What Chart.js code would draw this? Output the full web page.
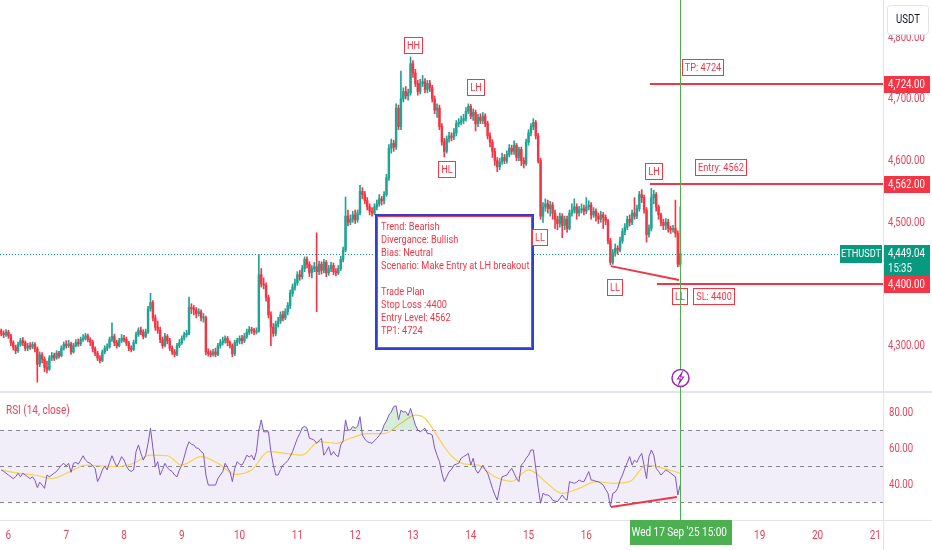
<!DOCTYPE html>
<html>
<head>
<meta charset="utf-8">
<script src="https://cdn.jsdelivr.net/npm/chart.js@4.4.1/dist/chart.umd.min.js"></script>
<style>
html, body { margin: 0; padding: 0; background: #fff; }
#wrap { position: relative; width: 932px; height: 550px; overflow: hidden; }
#price { position: absolute; left: 0; top: 0; }
#rsi { position: absolute; left: 0; top: 391px; }
</style>
</head>
<body>
<div id="wrap">
  <canvas id="price" width="932" height="391"></canvas>
  <canvas id="rsi" width="932" height="159"></canvas>
</div>
<script>
// ETHUSDT 1h, 5 Sep 21:00 -> 17 Sep 15:00 (one value per hour)
var opens = [
  4324, 4320, 4318,
  4322, 4316, 4305, 4298, 4292, 4302, 4308, 4305, 4296, 4300, 4298, 4302, 4295, 4270, 4285, 4278, 4265, 4262, 4280, 4284, 4280, 4288, 4284, 4296,
  4302, 4300, 4303, 4290, 4300, 4305, 4303, 4310, 4312, 4316, 4310, 4306, 4295, 4288, 4280, 4276, 4290, 4296, 4298, 4310, 4315, 4305, 4300, 4308,
  4312, 4310, 4304, 4296, 4294, 4305, 4318, 4325, 4322, 4315, 4322, 4360, 4370, 4345, 4330, 4325, 4310, 4300, 4315, 4308, 4296, 4290, 4286, 4300,
  4305, 4312, 4318, 4320, 4362, 4360, 4358, 4352, 4355, 4345, 4345, 4290, 4287, 4286, 4290, 4286, 4300, 4305, 4308, 4312, 4305, 4300, 4287, 4305,
  4308, 4312, 4308, 4315, 4322, 4326, 4325, 4322, 4324, 4415, 4400, 4398, 4378, 4350, 4330, 4320, 4335, 4340, 4350, 4345, 4355, 4365, 4385, 4395,
  4402, 4415, 4412, 4425, 4440, 4432, 4418, 4425, 4428, 4420, 4432, 4422, 4435, 4418, 4425, 4430, 4420, 4418, 4425, 4440, 4455, 4510, 4500, 4505,
  4512, 4504, 4515, 4550, 4545, 4535, 4525, 4518, 4515, 4525, 4530, 4538, 4535, 4545, 4572, 4620, 4628, 4622, 4685, 4655, 4700, 4712, 4705, 4710,
  4757, 4742, 4725, 4712, 4725, 4728, 4715, 4725, 4718, 4700, 4682, 4685, 4655, 4630, 4615, 4635, 4640, 4638, 4645, 4660, 4662, 4665, 4668, 4680,
  4688, 4672, 4678, 4660, 4670, 4665, 4672, 4660, 4640, 4630, 4615, 4600, 4590, 4598, 4605, 4600, 4610, 4620, 4615, 4625, 4605, 4618, 4600, 4595,
  4630, 4645, 4655, 4662, 4640, 4600, 4510, 4525, 4530, 4522, 4528, 4515, 4505, 4498, 4510, 4495, 4505, 4490, 4515, 4520, 4525, 4515, 4520, 4522,
  4518, 4525, 4528, 4512, 4518, 4510, 4505, 4512, 4508, 4502, 4470, 4435, 4450, 4458, 4455, 4470, 4485, 4492, 4505, 4500, 4515, 4510, 4522, 4545,
  4540, 4520, 4480, 4490, 4540, 4545, 4525, 4512, 4500, 4495, 4500, 4490, 4488, 4490, 4482, 4432
];
var highs = [
  4327, 4324, 4326,
  4325, 4319, 4308, 4301, 4306, 4312, 4313, 4308, 4304, 4305, 4306, 4305, 4298, 4290, 4289, 4282, 4275, 4284, 4289, 4288, 4292, 4291, 4300, 4306,
  4308, 4309, 4306, 4304, 4310, 4311, 4314, 4318, 4320, 4319, 4313, 4309, 4298, 4291, 4284, 4293, 4300, 4303, 4314, 4337, 4319, 4309, 4312, 4318,
  4317, 4314, 4307, 4300, 4309, 4322, 4329, 4330, 4326, 4327, 4364, 4385, 4373, 4350, 4340, 4330, 4314, 4320, 4318, 4312, 4300, 4294, 4304, 4310,
  4316, 4322, 4325, 4379, 4368, 4365, 4362, 4360, 4358, 4352, 4348, 4295, 4292, 4294, 4296, 4304, 4310, 4314, 4316, 4315, 4308, 4303, 4309, 4312,
  4316, 4317, 4320, 4327, 4331, 4330, 4328, 4329, 4448, 4425, 4410, 4402, 4382, 4355, 4336, 4340, 4346, 4355, 4356, 4360, 4370, 4390, 4400, 4408,
  4420, 4422, 4430, 4444, 4444, 4436, 4430, 4435, 4483, 4437, 4436, 4440, 4438, 4430, 4435, 4434, 4425, 4430, 4445, 4460, 4541, 4520, 4512, 4518,
  4520, 4520, 4560, 4556, 4550, 4540, 4530, 4524, 4530, 4536, 4545, 4542, 4550, 4578, 4626, 4635, 4633, 4692, 4690, 4745, 4718, 4720, 4716, 4768,
  4762, 4748, 4730, 4732, 4738, 4733, 4730, 4730, 4722, 4705, 4692, 4690, 4660, 4636, 4640, 4646, 4645, 4652, 4665, 4668, 4672, 4675, 4686, 4692,
  4691, 4684, 4682, 4675, 4676, 4678, 4676, 4664, 4645, 4634, 4620, 4605, 4604, 4612, 4610, 4616, 4626, 4625, 4632, 4628, 4622, 4622, 4605, 4635,
  4650, 4660, 4668, 4665, 4644, 4604, 4532, 4538, 4536, 4534, 4532, 4520, 4510, 4515, 4514, 4510, 4510, 4520, 4530, 4538, 4530, 4526, 4530, 4528,
  4540, 4535, 4532, 4524, 4522, 4515, 4518, 4516, 4512, 4505, 4474, 4456, 4465, 4462, 4476, 4490, 4498, 4510, 4512, 4520, 4540, 4528, 4550, 4553,
  4544, 4524, 4496, 4555, 4552, 4548, 4528, 4515, 4505, 4506, 4505, 4494, 4495, 4536, 4486, 4525
];
var lows = [
  4316, 4313, 4315,
  4312, 4300, 4293, 4287, 4289, 4299, 4300, 4292, 4292, 4294, 4295, 4290, 4241, 4266, 4272, 4258, 4256, 4260, 4276, 4276, 4278, 4280, 4282, 4293,
  4296, 4297, 4286, 4288, 4298, 4299, 4300, 4307, 4309, 4306, 4300, 4290, 4284, 4276, 4272, 4274, 4287, 4292, 4296, 4307, 4300, 4296, 4298, 4305,
  4306, 4300, 4292, 4290, 4292, 4303, 4315, 4318, 4311, 4313, 4320, 4356, 4340, 4325, 4320, 4305, 4296, 4298, 4303, 4292, 4286, 4282, 4284, 4297,
  4302, 4309, 4314, 4318, 4352, 4350, 4345, 4348, 4340, 4338, 4285, 4283, 4282, 4283, 4282, 4284, 4296, 4301, 4304, 4300, 4296, 4282, 4284, 4300,
  4303, 4303, 4305, 4312, 4318, 4320, 4318, 4319, 4322, 4395, 4392, 4372, 4345, 4300, 4315, 4316, 4330, 4336, 4340, 4342, 4350, 4360, 4380, 4390,
  4398, 4406, 4408, 4420, 4426, 4412, 4410, 4420, 4355, 4415, 4416, 4418, 4412, 4414, 4420, 4415, 4413, 4415, 4422, 4436, 4452, 4494, 4496, 4500,
  4498, 4500, 4512, 4538, 4530, 4520, 4512, 4510, 4512, 4520, 4526, 4528, 4530, 4542, 4568, 4612, 4615, 4618, 4650, 4650, 4695, 4700, 4698, 4706,
  4735, 4720, 4706, 4708, 4720, 4710, 4710, 4712, 4695, 4676, 4670, 4650, 4625, 4606, 4612, 4630, 4632, 4634, 4640, 4655, 4658, 4660, 4664, 4676,
  4668, 4665, 4648, 4655, 4660, 4660, 4655, 4635, 4622, 4605, 4592, 4582, 4585, 4594, 4595, 4596, 4606, 4610, 4610, 4600, 4600, 4592, 4588, 4592,
  4625, 4640, 4650, 4635, 4596, 4505, 4500, 4518, 4515, 4510, 4505, 4490, 4488, 4492, 4475, 4488, 4484, 4488, 4510, 4515, 4505, 4510, 4515, 4512,
  4514, 4520, 4505, 4508, 4502, 4498, 4500, 4490, 4496, 4465, 4431, 4432, 4445, 4448, 4452, 4466, 4480, 4488, 4494, 4496, 4505, 4506, 4518, 4532,
  4515, 4468, 4476, 4486, 4530, 4518, 4505, 4494, 4488, 4488, 4484, 4482, 4484, 4476, 4428, 4428
];
var closes = [
  4320, 4318, 4322,
  4316, 4305, 4298, 4292, 4302, 4308, 4305, 4296, 4300, 4298, 4302, 4295, 4270, 4285, 4278, 4265, 4262, 4280, 4284, 4280, 4288, 4284, 4296, 4302,
  4300, 4303, 4290, 4300, 4305, 4303, 4310, 4312, 4316, 4310, 4306, 4295, 4288, 4280, 4276, 4290, 4296, 4298, 4310, 4315, 4305, 4300, 4308, 4312,
  4310, 4304, 4296, 4294, 4305, 4318, 4325, 4322, 4315, 4322, 4360, 4370, 4345, 4330, 4325, 4310, 4300, 4315, 4308, 4296, 4290, 4286, 4300, 4305,
  4312, 4318, 4320, 4362, 4360, 4358, 4352, 4355, 4345, 4345, 4290, 4287, 4286, 4290, 4286, 4300, 4305, 4308, 4312, 4305, 4300, 4287, 4305, 4308,
  4312, 4308, 4315, 4322, 4326, 4325, 4322, 4324, 4415, 4400, 4398, 4378, 4350, 4330, 4320, 4335, 4340, 4350, 4345, 4355, 4365, 4385, 4395, 4402,
  4415, 4412, 4425, 4440, 4432, 4418, 4425, 4428, 4420, 4432, 4422, 4435, 4418, 4425, 4430, 4420, 4418, 4425, 4440, 4455, 4510, 4500, 4505, 4512,
  4504, 4515, 4550, 4545, 4535, 4525, 4518, 4515, 4525, 4530, 4538, 4535, 4545, 4572, 4620, 4628, 4622, 4685, 4655, 4700, 4712, 4705, 4710, 4757,
  4742, 4725, 4712, 4725, 4728, 4715, 4725, 4718, 4700, 4682, 4685, 4655, 4630, 4615, 4635, 4640, 4638, 4645, 4660, 4662, 4665, 4668, 4680, 4688,
  4672, 4678, 4660, 4670, 4665, 4672, 4660, 4640, 4630, 4615, 4600, 4590, 4598, 4605, 4600, 4610, 4620, 4615, 4625, 4605, 4618, 4600, 4595, 4630,
  4645, 4655, 4662, 4640, 4600, 4510, 4525, 4530, 4522, 4528, 4515, 4505, 4498, 4510, 4495, 4505, 4490, 4515, 4520, 4525, 4515, 4520, 4522, 4518,
  4525, 4528, 4512, 4518, 4510, 4505, 4512, 4508, 4502, 4470, 4435, 4450, 4458, 4455, 4470, 4485, 4492, 4505, 4500, 4515, 4510, 4522, 4545, 4540,
  4520, 4480, 4490, 4540, 4545, 4525, 4512, 4500, 4495, 4500, 4490, 4488, 4490, 4482, 4432, 4449.04
];
var rsiValues = [
  47.8, 47, 46,
  45, 44, 43, 44, 46, 44, 46, 45, 44, 43, 44, 42, 38, 41, 39.4, 37.6, 45, 44, 45, 46, 47, 48.7, 50.5, 51.5,
  50, 51.5, 46.5, 51.5, 52, 51, 53.3, 55.7, 53.3, 52, 51.5, 50, 48.7, 41.3, 44, 47.8, 50, 47.8, 52, 55.7, 52.4, 49.6, 52, 55.2,
  53.3, 50, 47.8, 47, 47.8, 58, 61.7, 57, 53.3, 56, 62.6, 71, 60, 49.6, 52.4, 45, 48, 51.5, 49, 47.8, 46.9, 45, 44, 47.8,
  50.5, 55, 60, 63.5, 62, 61.7, 60, 59.8, 58, 57, 45, 39.4, 39.4, 39.4, 39.4, 43, 45, 46.9, 51.5, 49, 46.9, 41.3, 48.7, 52.4,
  51, 50.5, 53, 56, 55, 56, 53.3, 58, 70, 75.6, 69, 69, 69, 58, 50.5, 45, 45, 48, 50.5, 51.5, 53, 55.2, 58, 61.7,
  65.4, 68, 71.3, 72, 71, 65.4, 65, 64.4, 62.6, 64, 65.4, 56, 58, 60.7, 56, 58, 56, 55.2, 61.7, 64, 75.6, 70, 70, 72,
  71, 72, 77.4, 67.2, 65, 63.5, 63, 62.6, 64, 65.4, 67, 69, 72.8, 75, 78.3, 80, 83, 83.5, 75.6, 81, 80, 80.2, 78, 82,
  77.4, 72.8, 70, 69, 70, 71, 68, 68, 67.2, 60, 56, 52.4, 46, 41.3, 44, 46.9, 48, 50.5, 51, 51.5, 54.3, 55.2, 56, 57,
  50.5, 54.3, 48, 46, 48, 50.5, 48, 46, 42, 37.6, 34, 31, 38, 44, 44.5, 45, 47, 48.7, 46, 43, 41.3, 50.5, 52, 54.3,
  56, 58.9, 58.9, 48.7, 38, 29.3, 34.8, 34, 33.9, 33, 31, 30.5, 30.2, 32, 33.9, 32, 31, 41.3, 40.8, 40.4, 41, 42.2, 41.5, 41.3,
  44, 46.9, 42.2, 42, 41.5, 41.3, 40.5, 39.4, 37, 34.8, 27.4, 34.8, 35.5, 37.6, 42, 45, 48.7, 52, 55.2, 50.5, 53.3, 52, 55, 57,
  50, 43, 55.2, 58.9, 56, 48.7, 47, 45, 46.5, 47.8, 47, 46, 45, 44, 33.9, 39.4
];
// RSI-based MA (yellow), read at a few points
var maHours = [0, 7, 14, 21, 28, 35, 42, 48, 55, 62, 69, 75, 83, 90, 97, 104, 111, 118, 125, 132, 139, 145, 152, 159, 166, 172, 176, 180, 184, 188, 193, 198, 205, 212, 219, 222, 226, 233, 240, 247, 254, 261, 268, 275, 282];
var maValues = [47.8, 46, 45, 43, 46.5, 50.5, 50, 49.6, 51.5, 56, 55.7, 50.5, 55.2, 51.5, 45.4, 47.8, 58, 57, 56, 63.5, 62.6, 65.4, 68, 68, 73.7, 78.3, 76.5, 69, 60.7, 54.3, 51, 50.5, 44, 41.5, 47.8, 46, 41.3, 34.8, 37.6, 41.3, 40.4, 41.3, 50.5, 48.7, 46];

var dayTicks = [3, 27, 51, 75, 99, 123, 147, 171, 195, 219, 243, 267, 291, 315, 339, 363];
var dayLabels = ['6', '7', '8', '9', '10', '11', '12', '13', '14', '15', '16', '17', '18', '19', '20', '21'];
var priceTicks = [4300, 4400, 4500, 4600, 4700, 4800];
var rsiTicks = [40, 60, 80];
var rsiLevels = [70, 50, 30];

var lastPrice = 4449.04;
var lastHour = 282;

// drawings on the chart
var pivotTexts = ['HH', 'LH', 'HL', 'LL', 'LH', 'LL', 'LL'];
var pivotHours = [171.2, 197.2, 185.1, 223.8, 271.3, 254.9, 282.1];
var pivotPrices = [4787, 4718, 4586, 4475, 4582, 4395, 4380];
var levelNames = ['TP: 4724', 'Entry: 4562', 'SL: 4400'];
var levelPrices = [4724, 4562, 4400];
var levelFrom = [269.4, 269.4, 272.3];
var levelTagHours = [291.5, 298.9, 296];
var levelTagPrices = [4751, 4589, 4379];
var planHours = [155.6, 220.8];
var planPrices = [4512.5, 4294.7];
var planLines = ['Trend: Bearish', 'Divergance: Bullish', 'Bias: Neutral', 'Scenario: Make Entry at LH breakout', '', 'Trade Plan', 'Stop Loss :4400', 'Entry Level: 4562', 'TP1: 4724'];
var priceDivHours = [253.2, 281.5];
var priceDivValues = [4429, 4406.5];
var rsiDivHours = [253.2, 280.6];
var rsiDivValues = [27.2, 32.8];

var X_MIN = -0.5, X_MAX = 366.2;
var UP = '#22a393', DOWN = '#f23645', TEAL = '#089981', RED = '#f23645';
var AXIS_TXT = '#e6455a';
var FONT = 'Roboto, sans-serif';
var SX = 0.8;   // the screenshot's text is narrow, squeeze it a bit

var hours = closes.map(function (c, i) { return i; });
var candleColors = hours.map(function (i) { return closes[i] >= opens[i] ? UP : DOWN; });

function fmt(v) {
    return v.toLocaleString('en-US', { minimumFractionDigits: 2, maximumFractionDigits: 2 });
}

function say(ctx, s, x, y, size, color, align, base) {
    ctx.save();
    ctx.font = size + 'px ' + FONT;
    ctx.fillStyle = color;
    ctx.textAlign = align || 'left';
    ctx.textBaseline = base || 'middle';
    ctx.translate(x, y);
    ctx.scale(SX, 1);
    ctx.fillText(s, 0, 0);
    ctx.restore();
}

function textW(ctx, s, size) {
    ctx.save();
    ctx.font = size + 'px ' + FONT;
    var w = ctx.measureText(s).width * SX;
    ctx.restore();
    return w;
}

function tag(ctx, text, cx, cy) {
    var w = Math.round(textW(ctx, text, 11.5) + 6);
    var h = 17;
    var x0 = Math.round(cx - w / 2), y0 = Math.round(cy - h / 2);
    ctx.fillStyle = '#fff';
    ctx.fillRect(x0, y0, w, h);
    ctx.strokeStyle = RED;
    ctx.lineWidth = 1;
    ctx.strokeRect(x0 + 0.5, y0 + 0.5, w - 1, h - 1);
    say(ctx, text, x0 + w / 2, y0 + h / 2 + 0.5, 11.5, RED, 'center');
}

function axisTag(ctx, text, left, cy, bg) {
    ctx.fillStyle = bg;
    ctx.fillRect(left + 1, Math.round(cy - 8.5), 46, 17);
    say(ctx, text, left + 5, cy + 0.5, 12, '#fff');
}

var pricePlugin = {
    id: 'priceDecor',
    beforeDatasetsDraw: function (chart) {
        var ctx = chart.ctx, a = chart.chartArea, y = chart.scales.y;
        var py = Math.round(y.getPixelForValue(lastPrice)) + 0.5;
        ctx.save();
        ctx.strokeStyle = TEAL;
        ctx.lineWidth = 1;
        ctx.setLineDash([1, 2]);
        ctx.beginPath();
        ctx.moveTo(a.left, py);
        ctx.lineTo(a.right - 43, py);
        ctx.stroke();
        ctx.restore();
    },
    afterDatasetsDraw: function (chart) {
        var ctx = chart.ctx, a = chart.chartArea, x = chart.scales.x, y = chart.scales.y;
        ctx.save();
        // trade plan note
        var bx1 = Math.round(x.getPixelForValue(planHours[0])), bx2 = Math.round(x.getPixelForValue(planHours[1]));
        var by1 = Math.round(y.getPixelForValue(planPrices[0])), by2 = Math.round(y.getPixelForValue(planPrices[1]));
        ctx.fillStyle = '#fff';
        ctx.fillRect(bx1, by1, bx2 - bx1, by2 - by1);
        ctx.strokeStyle = '#2f3fd6';
        ctx.lineWidth = 2;
        ctx.strokeRect(bx1, by1, bx2 - bx1, by2 - by1);
        ctx.strokeStyle = RED;
        ctx.lineWidth = 1;
        ctx.strokeRect(bx1 + 1.5, by1 + 1.5, bx2 - bx1 - 3, by2 - by1 - 3);
        planLines.forEach(function (t, k) { say(ctx, t, bx1 + 5, by1 + 6 + k * 13, 11.5, RED, 'left', 'top'); });

        // swing labels and level captions
        pivotTexts.forEach(function (t, k) {
            tag(ctx, t, x.getPixelForValue(pivotHours[k]), y.getPixelForValue(pivotPrices[k]));
        });
        levelNames.forEach(function (t, k) {
            tag(ctx, t, x.getPixelForValue(levelTagHours[k]), y.getPixelForValue(levelTagPrices[k]));
        });

        // vertical marker
        var cx = Math.round(x.getPixelForValue(lastHour)) + 0.5;
        ctx.strokeStyle = '#4caf50';
        ctx.lineWidth = 1;
        ctx.beginPath();
        ctx.moveTo(cx, a.top);
        ctx.lineTo(cx, a.bottom);
        ctx.stroke();
        ctx.restore();
    },
    afterDraw: function (chart) {
        var ctx = chart.ctx, a = chart.chartArea, x = chart.scales.x, y = chart.scales.y;
        ctx.save();
        // price axis labels
        y.ticks.forEach(function (t) { say(ctx, fmt(t.value), a.right + 5, y.getPixelForValue(t.value) + 0.5, 12, AXIS_TXT); });

        var py = y.getPixelForValue(lastPrice);
        ctx.fillStyle = TEAL;
        ctx.fillRect(a.right - 43, Math.round(py - 9), 42, 18);
        say(ctx, 'ETHUSDT', a.right - 22, py + 0.5, 11.5, '#fff', 'center');
        ctx.fillStyle = TEAL;
        ctx.fillRect(a.right + 1, Math.round(py - 9), 46, 32);
        say(ctx, fmt(lastPrice), a.right + 5, py + 0.5, 12, '#fff');
        say(ctx, '15:35', a.right + 5, py + 15, 12, '#fff');
        levelPrices.forEach(function (p) { axisTag(ctx, fmt(p), a.right, y.getPixelForValue(p), RED); });

        // currency button
        ctx.fillStyle = '#fff';
        ctx.strokeStyle = '#e0e3eb';
        ctx.lineWidth = 1;
        ctx.beginPath();
        ctx.roundRect(a.right + 4.5, 5.5, 41, 29, 3);
        ctx.fill();
        ctx.stroke();
        say(ctx, 'USDT', a.right + 25, 19.5, 12, '#131722', 'center');

        // lightning marker on the vertical line
        var cx = Math.round(x.getPixelForValue(lastHour)) + 0.5, cy = a.bottom - 13;
        ctx.beginPath();
        ctx.arc(cx, cy, 8.5, 0, Math.PI * 2);
        ctx.fillStyle = '#fff';
        ctx.fill();
        ctx.strokeStyle = '#9c27b0';
        ctx.lineWidth = 1.5;
        ctx.stroke();
        ctx.beginPath();
        ctx.moveTo(cx + 1.5, cy - 5.5);
        ctx.lineTo(cx - 3, cy + 1);
        ctx.lineTo(cx, cy + 1);
        ctx.lineTo(cx - 1.5, cy + 5.5);
        ctx.lineTo(cx + 3, cy - 1);
        ctx.lineTo(cx, cy - 1);
        ctx.closePath();
        ctx.lineWidth = 1.1;
        ctx.stroke();
        ctx.restore();
    }
};

var levelSets = levelPrices.map(function (p, k) {
    return {
        type: 'line', order: 0,
        data: [{ x: levelFrom[k], y: p }, { x: X_MAX, y: p }],
        borderColor: RED, borderWidth: 2, pointRadius: 0
    };
});

new Chart(document.getElementById('price'), {
    type: 'bar',
    data: {
        datasets: levelSets.concat([
            {
                type: 'line', order: 0,
                data: priceDivHours.map(function (h, k) { return { x: h, y: priceDivValues[k] }; }),
                borderColor: RED, borderWidth: 2, pointRadius: 0
            },
            {
                order: 1, grouped: false, barThickness: 1.8, minBarLength: 1,
                data: hours.map(function (i) { return { x: i, y: [opens[i], closes[i]] }; }),
                backgroundColor: candleColors
            },
            {
                order: 2, grouped: false, barThickness: 1,
                data: hours.map(function (i) { return { x: i, y: [lows[i], highs[i]] }; }),
                backgroundColor: candleColors
            }
        ])
    },
    options: {
        responsive: false, animation: false, events: [],
        layout: { padding: 0 },
        plugins: { legend: { display: false }, tooltip: { enabled: false } },
        scales: {
            x: { type: 'linear', display: false, min: X_MIN, max: X_MAX, offset: false },
            y: {
                position: 'right', min: 4226.6, max: 4860.3,
                grid: { display: false, drawTicks: false },
                border: { display: true, color: '#e0e3eb' },
                ticks: { display: false },
                afterBuildTicks: function (s) { s.ticks = priceTicks.map(function (v) { return { value: v }; }); },
                afterFit: function (s) { s.width = 49; s.paddingTop = 0; s.paddingBottom = 0; }
            }
        }
    },
    plugins: [pricePlugin]
});

var rsiPlugin = {
    id: 'rsiDecor',
    beforeDatasetsDraw: function (chart) {
        var ctx = chart.ctx, a = chart.chartArea, y = chart.scales.y;
        ctx.save();
        var yTop = y.getPixelForValue(rsiLevels[0]), yBot = y.getPixelForValue(rsiLevels[2]);
        ctx.fillStyle = 'rgba(126,87,194,0.1)';
        ctx.fillRect(a.left, yTop, a.right - a.left, yBot - yTop);
        ctx.strokeStyle = '#83868f';
        ctx.lineWidth = 1;
        ctx.setLineDash([4, 4]);
        rsiLevels.forEach(function (v) {
            var py = Math.round(y.getPixelForValue(v)) + 0.5;
            ctx.beginPath();
            ctx.moveTo(a.left, py);
            ctx.lineTo(a.right, py);
            ctx.stroke();
        });
        ctx.restore();
    },
    afterDraw: function (chart) {
        var ctx = chart.ctx, a = chart.chartArea, x = chart.scales.x, y = chart.scales.y;
        ctx.save();
        // pane separator, time axis line, price axis line
        ctx.fillStyle = '#e3e5ec';
        ctx.fillRect(0, 0, chart.width, 2);
        ctx.fillRect(0, a.bottom, chart.width, 1);
        ctx.fillRect(a.right, 0, 1, chart.height);
        say(ctx, 'RSI (14, close)', 6, 20, 12.5, AXIS_TXT);

        y.ticks.forEach(function (t) { say(ctx, fmt(t.value), a.right + 6, y.getPixelForValue(t.value) + 0.5, 12, AXIS_TXT); });
        x.ticks.forEach(function (t) {
            say(ctx, dayLabels[dayTicks.indexOf(t.value)], x.getPixelForValue(t.value), a.bottom + 15.5, 12.5, AXIS_TXT, 'center');
        });

        var cx = Math.round(x.getPixelForValue(lastHour)) + 0.5;
        ctx.strokeStyle = '#4caf50';
        ctx.lineWidth = 1;
        ctx.beginPath();
        ctx.moveTo(cx, 0);
        ctx.lineTo(cx, a.bottom);
        ctx.stroke();
        ctx.fillStyle = '#4caf50';
        ctx.fillRect(Math.round(cx - 51), a.bottom, 102, 25);
        say(ctx, "Wed 17 Sep '25", cx - 15, a.bottom + 13, 12.5, '#fff', 'center');
        say(ctx, '15:00', cx + 34, a.bottom + 13, 12.5, '#fff', 'center');
        ctx.restore();
    }
};

new Chart(document.getElementById('rsi'), {
    type: 'line',
    data: {
        datasets: [
            {
                order: 0,
                data: rsiDivHours.map(function (h, k) { return { x: h, y: rsiDivValues[k] }; }),
                borderColor: RED, borderWidth: 2, pointRadius: 0
            },
            {
                order: 1,
                data: hours.map(function (i) { return { x: i, y: rsiValues[i] }; }),
                borderColor: '#7e57c2', borderWidth: 1, pointRadius: 0, tension: 0,
                fill: { target: { value: 70 }, above: 'rgba(76,175,80,0.22)', below: 'rgba(0,0,0,0)' }
            },
            {
                order: 2,
                data: maHours.map(function (h, k) { return { x: h, y: maValues[k] }; }),
                borderColor: '#f5d44a', borderWidth: 1.2, pointRadius: 0, cubicInterpolationMode: 'monotone'
            }
        ]
    },
    options: {
        responsive: false, animation: false, events: [],
        layout: { padding: { top: 2, left: 0, right: 0, bottom: 0 } },
        plugins: { legend: { display: false }, tooltip: { enabled: false } },
        scales: {
            x: {
                type: 'linear', min: X_MIN, max: X_MAX, offset: false,
                grid: { display: false, drawTicks: false },
                border: { display: false },
                ticks: { display: false },
                afterBuildTicks: function (s) { s.ticks = dayTicks.map(function (v) { return { value: v }; }); },
                afterFit: function (s) { s.height = 30; s.paddingLeft = 0; s.paddingRight = 0; }
            },
            y: {
                position: 'right', min: 20, max: 90.56,
                grid: { display: false, drawTicks: false },
                border: { display: false },
                ticks: { display: false },
                afterBuildTicks: function (s) { s.ticks = rsiTicks.map(function (v) { return { value: v }; }); },
                afterFit: function (s) { s.width = 49; s.paddingTop = 0; s.paddingBottom = 0; }
            }
        }
    },
    plugins: [rsiPlugin]
});
</script>
</body>
</html>
